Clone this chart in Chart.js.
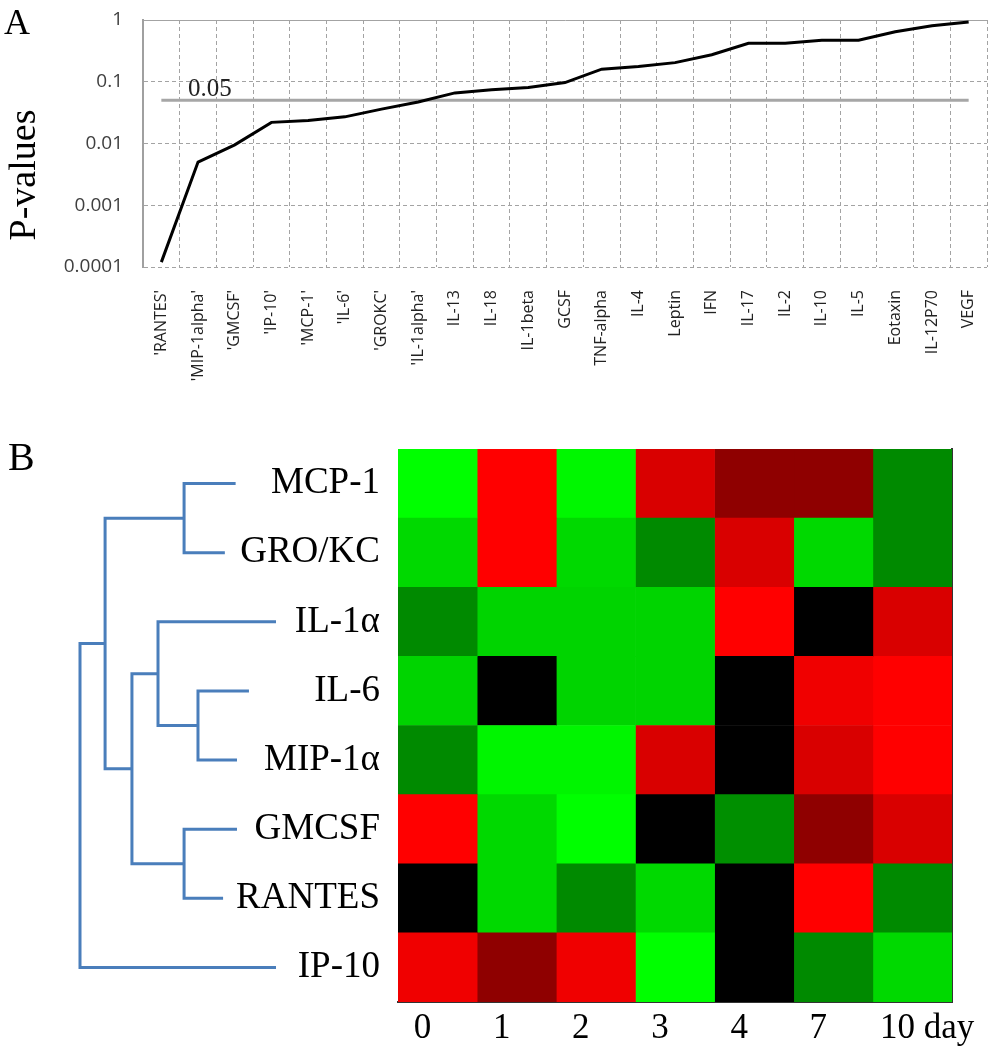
<!DOCTYPE html>
<html><head><meta charset="utf-8">
<script src="https://cdn.jsdelivr.net/npm/chart.js@4.4.1/dist/chart.umd.min.js"></script>
<style>
html,body{margin:0;padding:0;background:#fff;}
#wrap{position:relative;width:993px;height:1050px;overflow:hidden;background:#fff;}
canvas{position:absolute;left:0;}
</style></head><body>
<div id="wrap">
<canvas id="cA" width="993" height="405" style="top:0;width:993px;height:405px"></canvas>
<canvas id="cB" width="993" height="645" style="top:405px;width:993px;height:645px"></canvas>
<canvas id="cD" width="300" height="645" style="top:405px;width:300px;height:645px"></canvas>
</div>
<script>
// ---------- Panel A data ----------
const cytokines = ["'RANTES'", "'MIP-1alpha'", "'GMCSF'", "'IP-10'", "'MCP-1'", "'IL-6'", "'GROKC'", "'IL-1alpha'",
  "IL-13", "IL-18", "IL-1beta", "GCSF", "TNF-alpha", "IL-4", "Leptin", "IFN", "IL-17", "IL-2", "IL-10", "IL-5",
  "Eotaxin", "IL-12P70", "VEGF"];
const pValues = [0.00012, 0.005, 0.0095, 0.022, 0.0235, 0.027, 0.036, 0.047,
  0.066, 0.074, 0.081, 0.097, 0.16, 0.176, 0.204, 0.274, 0.42, 0.42, 0.47, 0.47,
  0.645, 0.81, 0.93];
const threshold = 0.05;
const thresholdLabel = '0.05';
const yTickValues = [0.0001, 0.001, 0.01, 0.1, 1];
const yTickLabels = ['0.0001', '0.001', '0.01', '0.1', '1'];
const yTitle = 'P-values';

// ---------- Panel B data ----------
const genes = ['MCP-1', 'GRO/KC', 'IL-1α', 'IL-6', 'MIP-1α', 'GMCSF', 'RANTES', 'IP-10'];
const days = ['0', '1', '2', '3', '4', '7', '10'];
const dayUnit = 'day';
// relative expression (-1 = strongest green, 0 = black, +1 = strongest red), rows = genes, cols = days
const heatRows = [
  [-1.00,  1.00, -0.97,  0.85,  0.56,  0.56, -0.54],
  [-0.85,  1.00, -0.85, -0.54,  0.85, -0.85, -0.54],
  [-0.54, -0.83, -0.83, -0.83,  1.00,  0.00,  0.85],
  [-0.83,  0.00, -0.83, -0.83,  0.00,  0.94,  1.00],
  [-0.54, -0.96, -0.96,  0.85,  0.00,  0.85,  1.00],
  [ 1.00, -0.85, -1.00,  0.00, -0.56,  0.56,  0.85],
  [ 0.00, -0.85, -0.54, -0.85,  0.00,  1.00, -0.54],
  [ 0.94,  0.56,  0.94, -1.00,  0.00, -0.54, -0.85]
];
// dendrogram: [childA, childB, height]; leaves 0..7 are genes, merged nodes get ids 8,9,...
const dendroMerges = [
  [0, 1, 4.69],
  [3, 4, 3.98],
  [2, 9, 6.02],
  [5, 6, 4.69],
  [10, 11, 7.35],
  [8, 12, 8.72],
  [13, 7, 10.0]
];
const leafEnds = [2.06, 2.61, 0.0, 1.38, 1.99, 1.99, 2.70, 0.0];

// ---------- helpers ----------
function heatColor(v) {
  const c = Math.round(255 * Math.min(1, Math.abs(v)));
  return v > 0 ? `rgb(${c},0,0)` : `rgb(0,${c},0)`;
}
const serif = '"Liberation Serif", "Times New Roman", serif';
const sans = '"Open Sans", "Liberation Sans", sans-serif';

// ---------- Panel A ----------
const annotA = {
  id: 'annotA',
  afterDraw(chart) {
    const {ctx, chartArea, scales: {y}} = chart;
    ctx.save();
    ctx.fillStyle = '#000';
    ctx.textAlign = 'left';
    ctx.textBaseline = 'alphabetic';
    ctx.font = '36px ' + serif;
    ctx.fillText('A', 4, 34);
    ctx.font = '25px ' + serif;
    ctx.fillStyle = '#222';
    ctx.fillText(thresholdLabel, chartArea.left + 45, y.getPixelForValue(threshold) - 4);
    ctx.translate(35, 175);
    ctx.rotate(-Math.PI / 2);
    ctx.textAlign = 'center';
    ctx.fillStyle = '#000';
    ctx.font = '38px ' + serif;
    ctx.fillText(yTitle, 0, 0);
    ctx.restore();
  }
};

new Chart(document.getElementById('cA'), {
  type: 'line',
  data: {
    labels: cytokines,
    datasets: [
      {data: pValues, borderColor: '#000', borderWidth: 3, pointRadius: 0, tension: 0, fill: false, order: 0},
      {data: cytokines.map(() => threshold), borderColor: '#a6a6a6', borderWidth: 3, pointRadius: 0, fill: false, order: 1}
    ]
  },
  options: {
    responsive: false, animation: false, devicePixelRatio: 1,
    layout: {padding: {top: 20, right: 6, left: 0, bottom: 0}},
    plugins: {legend: {display: false}, tooltip: {enabled: false}},
    scales: {
      x: {
        offset: true,
        grid: {offset: true, color: '#a3a3a3', lineWidth: 1, drawTicks: false},
        border: {display: false, dash: [4, 3]},
        ticks: {autoSkip: false, minRotation: 90, maxRotation: 90, padding: 23, color: '#222',
          font: {family: sans, size: 16}},
        afterFit(s) { s.height = 138; s.paddingLeft = 0; s.paddingRight = 0; }
      },
      y: {
        type: 'logarithmic', min: 0.0001, max: 1,
        afterBuildTicks(s) { s.ticks = yTickValues.map(v => ({value: v})); },
        ticks: {callback: (v, i) => yTickLabels[i], padding: 20, color: '#404040', font: {family: sans, size: 19}},
        grid: {color: '#a3a3a3', lineWidth: 1, drawTicks: false},
        border: {display: true, color: '#a0a0a0', width: 2,
          dash: (ctx) => (ctx && ctx.tick && ctx.tick.value === 1) ? [] : [4, 3]},
        afterFit(s) { s.width = 143; s.paddingTop = 0; s.paddingBottom = 0; }
      }
    }
  },
  plugins: [annotA]
});

// ---------- Panel B heatmap ----------
const labelFont = 35;
const annotB = {
  id: 'annotB',
  afterDraw(chart) {
    const {ctx, scales: {x}} = chart;
    ctx.save();
    ctx.fillStyle = '#000';
    ctx.textAlign = 'left';
    ctx.textBaseline = 'alphabetic';
    ctx.font = '40px ' + serif;
    ctx.fillText('B', 8, 65);
    ctx.font = labelFont + 'px ' + serif;
    ctx.textBaseline = 'middle';
    const last = days.length - 1;
    const px = x.getPixelForValue(last + 0.5) + x.options.ticks.labelOffset
      + ctx.measureText(days[last]).width / 2 + ctx.measureText(' ').width;
    const py = x.top + x.options.ticks.padding + labelFont * 1.2 / 2;
    ctx.fillText(dayUnit, px, py);
    ctx.restore();
  }
};

new Chart(document.getElementById('cB'), {
  type: 'bar',
  data: {
    labels: genes,
    datasets: days.map((d, j) => ({
      label: d,
      data: genes.map(() => 1),
      backgroundColor: heatRows.map(r => heatColor(r[j])),
      borderWidth: 0,
      barPercentage: 1,
      categoryPercentage: 1
    }))
  },
  options: {
    indexAxis: 'y', responsive: false, animation: false, devicePixelRatio: 1,
    layout: {padding: {top: 44, right: 41, left: 0, bottom: 0}},
    plugins: {legend: {display: false}, tooltip: {enabled: false}},
    scales: {
      x: {
        type: 'linear', stacked: true, min: 0, max: days.length,
        afterBuildTicks(s) { s.ticks = days.map((_, i) => ({value: i + 0.5})); },
        ticks: {autoSkip: false, maxRotation: 0, callback: (v, i) => days[i], labelOffset: -15, padding: 6,
          color: '#000', font: {family: serif, size: labelFont}},
        grid: {display: false, drawTicks: false},
        border: {display: true, color: '#333', width: 2},
        afterFit(s) { s.height = 48; s.paddingLeft = 0; s.paddingRight = 0; }
      },
      y: {
        stacked: true,
        ticks: {padding: 18, color: '#000', font: {family: serif, size: 37}},
        grid: {display: false, drawTicks: false},
        border: {display: false},
        afterFit(s) { s.width = 398; s.paddingTop = 0; s.paddingBottom = 0; }
      },
      y2: {
        type: 'category', labels: genes, position: 'right',
        ticks: {display: false},
        grid: {display: false, drawTicks: false},
        border: {display: true, color: '#333', width: 2},
        afterFit(s) { s.width = 0; s.paddingTop = 0; s.paddingBottom = 0; }
      }
    }
  },
  plugins: [annotB]
});

// ---------- Panel B dendrogram ----------
const nodeY = genes.map((_, i) => i);
const nodeH = leafEnds.slice();
const dendroSets = dendroMerges.map(([a, b, h]) => {
  const ya = nodeY[a], yb = nodeY[b];
  const pts = [{x: nodeH[a], y: ya}, {x: h, y: ya}, {x: h, y: yb}, {x: nodeH[b], y: yb}];
  nodeY.push((ya + yb) / 2);
  nodeH.push(h);
  return pts;
});
const rootHeight = Math.max(...dendroMerges.map(m => m[2]));

new Chart(document.getElementById('cD'), {
  type: 'scatter',
  data: {
    datasets: dendroSets.map(pts => ({
      data: pts, showLine: true, borderColor: '#4a7ebb', borderWidth: 3, pointRadius: 0,
      clip: false, tension: 0, borderJoinStyle: 'miter', borderCapStyle: 'butt'
    }))
  },
  options: {
    responsive: false, animation: false, devicePixelRatio: 1,
    layout: {padding: {left: 80, right: 24, top: 44, bottom: 48}},
    plugins: {legend: {display: false}, tooltip: {enabled: false}},
    scales: {
      x: {type: 'linear', display: false, reverse: true, min: 0, max: rootHeight},
      y: {type: 'linear', display: false, reverse: true, min: -0.5, max: genes.length - 0.5}
    }
  }
});
</script>
</body></html>
